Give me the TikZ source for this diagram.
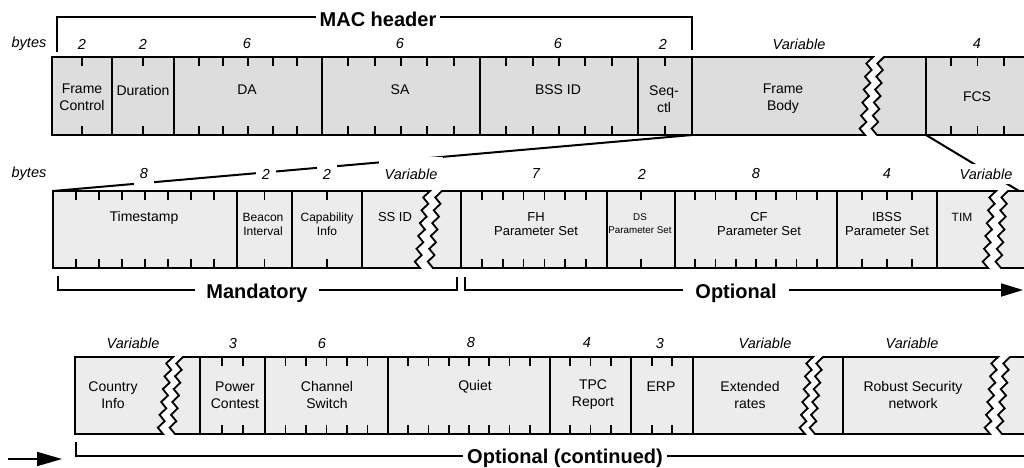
\documentclass[tikz,border=0pt]{standalone}
\usepackage{fontspec}
\setmainfont{Liberation Sans}
\usetikzlibrary{arrows.meta}
\definecolor{hdrgray}{gray}{0.865}
\definecolor{elgray}{gray}{0.925}
\newcommand\zzdn[4]{\foreach \i in {1,...,12}{ -- ({#1+(#2-#1)*\i/12-6*mod(\i,2)},{#3+(#4-#3)*\i/12})}}
\newcommand\zzup[4]{\foreach \i in {11,10,...,0}{ -- ({#1+(#2-#1)*\i/12-6*mod(\i,2)},{#3+(#4-#3)*\i/12})}}
\newcommand\bytetks[3]{\foreach \xa/\xb/\nb in {#3}{\pgfmathtruncatemacro\mb{\nb-1}%
  \foreach \k in {1,...,\mb}{\pgfmathsetmacro\tx{\xa+(\xb-\xa)*\k/\nb}\draw[tick] (\tx,#1) -- ++(0,9) (\tx,#2) -- ++(0,-9);}}}

\begin{document}
\begin{tikzpicture}[x=1pt,y=-1pt,line width=1.8pt,
  fld/.style={font=\fontsize{14}{17}\selectfont,align=center},
  sfld/.style={font=\fontsize{13}{14}\selectfont,align=center},
  byt/.style={font=\fontsize{14.5}{16}\selectfont\itshape},
  gap/.style={fill=white,inner xsep=6pt,inner ysep=12pt},
  brk/.style={font=\fontsize{20}{24}\selectfont\bfseries,fill=white,inner ysep=1pt},
  tick/.style={line width=1.8pt}]
\useasboundingbox (0,0) rectangle (1024,467);
\clip (0,0) rectangle (1024,467);

\filldraw[fill=hdrgray] (52,57) -- (873,57) \zzdn{873}{865}{57}{135} -- (52,135) -- cycle;
\filldraw[fill=hdrgray] (1040,135) -- (1040,57) -- (884,57) \zzdn{884}{877}{57}{135} -- cycle;
\foreach \x in {112,174,322,480,638,692,926} \draw (\x,57) -- (\x,135);
\bytetks{57}{135}{52/112/2,112/174/2,174/322/6,322/480/6,480/638/6,638/692/2,924/1031/4}
\node[fld] (fc) at (82,97) {Frame\\Control}; \node[fld] (dur) at (143,90) {Duration};
\node[fld] (da) at (247,90) {DA}; \node[fld] (sa) at (400,90) {SA}; \node[fld] (bss) at (558,90) {BSS ID};
\node[fld] (seq) at (664,99) {Seq-\\ctl}; \node[fld] (body) at (783,99) {Frame\\Body}; \node[fld] (fcs) at (977,97) {FCS};
\node[byt] (by1) at (29,44) {bytes};
\foreach \t/\x in {2/82,2/143,6/247,6/400,6/558,2/663,Variable/799,4/977} \node[byt] (b1-\x) at (\x,44) {\t};

\coordinate (mh1) at (57,52); \coordinate (mh2) at (692,50);
\draw (mh1) -- (57,17) -- (692,17) -- (mh2);
\node[brk,inner xsep=4pt] (mac) at (378,19.5) {MAC header};

\coordinate (bodyl) at (692,135); \coordinate (tsl) at (53,191);
\coordinate (fcsl) at (926,135); \coordinate (r2r) at (1019,191);
\draw[line width=2pt] (bodyl) -- (tsl); \draw[line width=2pt] (fcsl) -- (r2r);
\node[byt] (by2) at (29,174) {bytes};
\foreach \t/\x in {8/144,2/266,2/327,Variable/411} \node[byt,gap] (b2-\x) at (\x,174) {\t};
\node[byt,fill=white,inner sep=5pt] (b2-986) at (986,174) {Variable};
\foreach \t/\x in {7/536,2/642,8/756,4/887} \node[byt] (b2-\x) at (\x,174) {\t};

\filldraw[fill=elgray] (53,191) -- (430,191) \zzdn{430}{420}{191}{268} -- (53,268) -- cycle;
\filldraw[fill=elgray] (442,191) -- (996,191) \zzdn{996}{988}{191}{268} -- (433,268) \zzup{442}{433}{191}{268} -- cycle;
\filldraw[fill=elgray] (1040,268) -- (1001,268) \zzup{1008}{1001}{191}{268} -- (1040,191) -- cycle;
\foreach \x in {237,292,362,461,607,675,837,937} \draw (\x,191) -- (\x,268);
\bytetks{191}{268}{53/237/8,237/292/2,292/362/2,461/607/7,607/675/2,675/837/8,837/937/4}
\node[fld] (ts) at (144,218) {Timestamp};
\node[sfld,font=\fontsize{12}{14}\selectfont] (bi) at (263,224) {Beacon\\Interval};
\node[sfld,font=\fontsize{12}{14}\selectfont] (ci) at (327,224) {Capability\\Info};
\node[sfld] (ssid) at (395,217) {SS ID};
\node[sfld] (fh) at (536,224) {FH\\Parameter Set};
\node[sfld,font=\fontsize{9.8}{13}\selectfont,inner xsep=0pt] (ds) at (640,224) {DS\\Parameter Set};
\node[sfld] (cf) at (759,224) {CF\\Parameter Set};
\node[sfld] (ibss) at (887,224) {IBSS\\Parameter Set};
\node[sfld,font=\fontsize{12}{14}\selectfont] (tim) at (962,217) {TIM};

\coordinate (md1) at (58,276); \coordinate (md2) at (457,277);
\draw (md1) -- (58,290) -- (457,290) -- (md2);
\node[brk,inner xsep=11pt] (mand) at (257,293) {Mandatory};
\coordinate (op1) at (465,277); \coordinate (op2) at (1023,290);
\draw[-{Triangle[length=22pt,width=13pt]}] (op1) -- (465,290) -- (op2);
\node[brk,inner xsep=12pt] (opt) at (736,293) {Optional};

\filldraw[fill=elgray] (75,357) -- (173,357) \zzdn{173}{163}{357}{434} -- (75,434) -- cycle;
\filldraw[fill=elgray] (183,357) -- (813,357) \zzdn{813}{805}{357}{434} -- (175,434) \zzup{183}{175}{357}{434} -- cycle;
\filldraw[fill=elgray] (823,357) -- (998,357) \zzdn{998}{990}{357}{434} -- (815,434) \zzup{823}{815}{357}{434} -- cycle;
\filldraw[fill=elgray] (1040,434) -- (1002,434) \zzup{1010}{1002}{357}{434} -- (1040,357) -- cycle;
\foreach \x in {200,265,388,550,631,693,843} \draw (\x,357) -- (\x,434);
\bytetks{357}{434}{200/265/3,265/388/6,388/550/8,550/631/4,631/693/3}
\node[fld] (ctry) at (113,395) {Country\\Info}; \node[fld] (pwr) at (235,395) {Power\\Contest};
\node[fld] (chsw) at (327,395) {Channel\\Switch}; \node[fld] (qt) at (475,387) {Quiet};
\node[fld] (tpc) at (593,395) {TPC\\Report}; \node[fld] (erp) at (661,387) {ERP};
\node[fld] (ext) at (750,395) {Extended\\rates}; \node[fld] (rsn) at (913,395) {Robust Security\\network};
\foreach \t/\x in {Variable/133,3/233,6/322,8/471,4/587,3/660,Variable/765,Variable/912} \node[byt] (b3-\x) at (\x,343) {\t};

\coordinate (oc1) at (76,442); \coordinate (oc2) at (1030,456);
\draw (oc1) -- (76,456) -- (oc2);
\node[brk,inner xsep=4pt] (optc) at (565,458) {Optional (continued)};
\coordinate (ain) at (8,459); \coordinate (aout) at (62,459);
\draw[-{Triangle[length=25pt,width=14pt]}] (ain) -- (aout);
\end{tikzpicture}
\end{document}
